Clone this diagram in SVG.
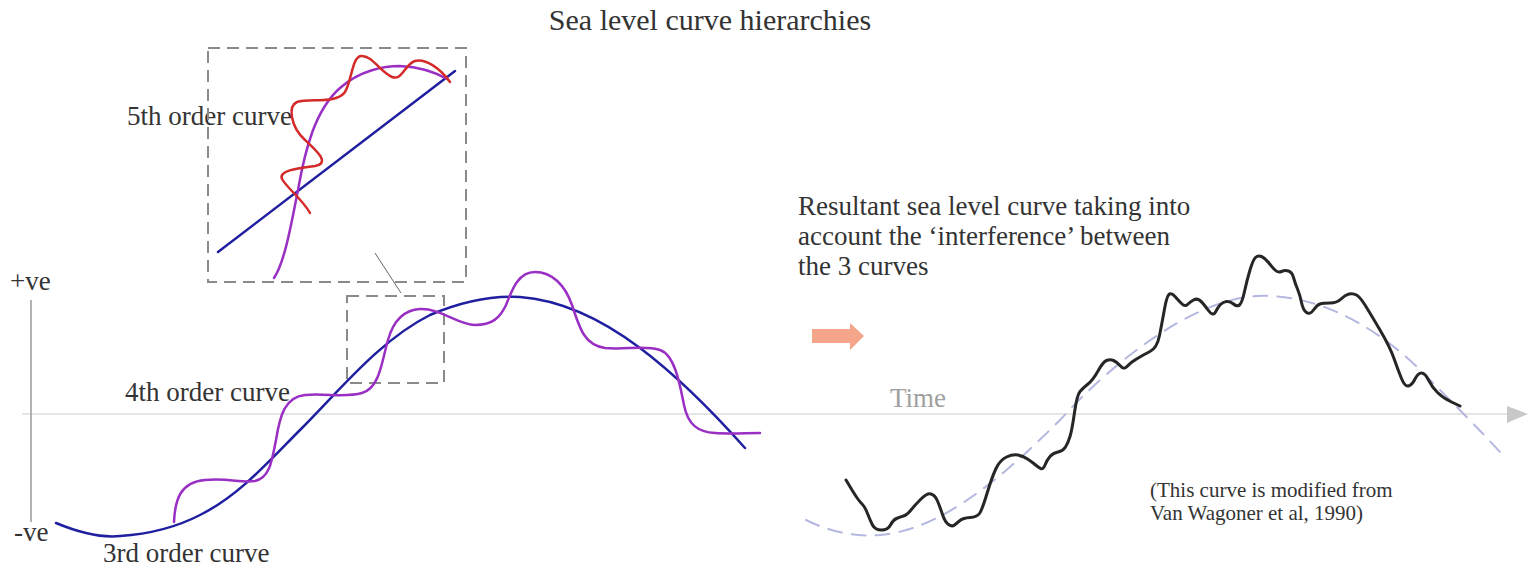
<svg xmlns="http://www.w3.org/2000/svg" width="1536" height="578" viewBox="0 0 1536 578">
<style>
.t{font-family:"Liberation Serif","Times New Roman",serif;fill:#333}
.box{fill:none;stroke:#8a8a8a;stroke-width:2;stroke-dasharray:12 7}
.c{fill:none;stroke-linecap:round;stroke-linejoin:round}
.blue{stroke:#1f1fa0;stroke-width:2.5}
.purple{stroke:#9a2fc4;stroke-width:2.5}
.red{stroke:#d42a2a;stroke-width:2.5}
</style>
<rect width="1536" height="578" fill="#fff"/>
<g id="axes">
<line x1="22" y1="414" x2="1508" y2="414" stroke="#dcdcdc" stroke-width="1.5"/>
<polygon points="1507,406 1528,414 1507,423" fill="#c8c8c8"/>
<line x1="31" y1="300" x2="31" y2="522" stroke="#9a9a9a" stroke-width="1.5"/>
</g>
<g id="title"><text class="t" x="710" y="30" font-size="30" text-anchor="middle">Sea level curve hierarchies</text></g>
<g id="labels">
<text class="t" x="127" y="125" font-size="27">5th order curve</text>
<text class="t" x="10" y="290" font-size="27">+ve</text>
<text class="t" x="14" y="541" font-size="27">-ve</text>
<text class="t" x="125" y="401" font-size="27">4th order curve</text>
<text class="t" x="103" y="562" font-size="27">3rd order curve</text>
<text class="t" x="890" y="407" font-size="27" style="fill:#a0a0a0">Time</text>
</g>
<g id="inset-box"><rect class="box" x="208" y="48" width="258" height="234"/></g>
<g id="zoom-box"><rect class="box" x="347" y="296" width="97" height="87"/></g>
<g id="connectors"><line x1="375" y1="253" x2="401" y2="293" stroke="#666" stroke-width="1"/></g>
<g id="inset-curves">
<path class="c blue" d="M218,252 L455,71"/>
<path class="c purple" d="M274,278 C285,262 292,220 298,190 C305,150 315,110 340,88 C360,70 385,66 400,66 C420,67 435,72 447,79"/>
<path class="c red" d="M310,213 C303,200 287,188 282,179 C278,170 300,168 315,166 C330,163 318,152 305,140 C290,126 288,106 297,102 C310,98 337,104 345,92 C352,80 352,57 361,56 C372,55 380,72 392,77 C402,81 405,64 415,61 C425,58 440,68 450,82"/>
</g>
<g id="third-order-curve">
<path class="c blue" d="M56,523 C80,533 100,538 120,536 C150,534 175,528 200,515 C240,495 270,460 300,430 C340,390 380,340 430,315 C470,298 500,296 520,297 C560,300 600,318 640,348 C680,378 720,420 745,448"/>
</g>
<g id="fourth-order-curve">
<path class="c purple" d="M174,522 C175,500 180,482 205,480 C230,478 240,483 255,481 C270,478 272,460 276,440 C280,415 285,397 305,395 C325,393 345,398 362,393 C380,388 382,360 388,340 C393,322 403,310 420,309 C440,308 458,325 475,325 C492,325 500,318 506,305 C512,290 518,272 535,272 C552,272 565,285 572,305 C580,330 585,345 605,348 C625,350 645,345 660,350 C675,355 680,385 684,405 C688,425 698,432 715,433 C730,434 745,433 760,433"/>
</g>
<g id="arrow"><polygon points="812,329 850,329 850,323 864,336 850,350 850,343 812,343" fill="#f4a58a"/></g>
<g id="resultant-text">
<text class="t" font-size="27"><tspan x="798" y="215">Resultant sea level curve taking into</tspan><tspan x="798" y="245">account the ‘interference’ between</tspan><tspan x="798" y="275">the 3 curves</tspan></text>
</g>
<g id="reference-sine">
<path class="c" stroke="#b4b8e0" stroke-width="2" stroke-dasharray="14 10" stroke-linecap="butt" d="M806,520 C830,532 855,537 880,535 C940,530 1000,480 1060,420 C1110,365 1190,300 1257,296 C1320,293 1380,330 1420,370 C1450,400 1480,430 1500,452"/>
</g>
<g id="resultant-curve">
<path class="c" stroke="#262626" stroke-width="3" d="M846,480 L850.5,487.5 Q855,495 857.5,498.5 Q860,502 862.5,504.5 Q865,507 867.5,513.5 Q870,520 872.5,525 Q875,530 881.5,530 Q888,530 890.5,525 Q893,520 896.5,518.5 Q900,517 903.5,516 Q907,515 911,510 Q915,505 921,499 Q927,493 931,494 Q935,495 937.5,501 Q940,507 942.5,514.5 Q945,522 948.5,524.5 Q952,527 954.5,525 Q957,523 960,520.5 Q963,518 970,517.5 Q977,517 979.5,513.5 Q982,510 987,493.5 Q992,477 996,468.5 Q1000,460 1006.5,457 Q1013,454 1018,455 Q1023,456 1027.5,459 Q1032,462 1035,464.5 Q1038,467 1040.5,468.5 Q1043,470 1045,465 Q1047,460 1050,456.5 Q1053,453 1058,452 Q1063,451 1065.5,447 Q1068,443 1070,436.5 Q1072,430 1074.5,412.5 Q1077,395 1080,391.5 Q1083,388 1088,384 Q1093,380 1098,371 Q1103,362 1106.5,360.5 Q1110,359 1113.5,360.5 Q1117,362 1120.5,366 Q1124,370 1127,366.5 Q1130,363 1136.5,359 Q1143,355 1150,351.5 Q1157,348 1159.5,335.5 Q1162,323 1164.5,309 Q1167,295 1169.5,294 Q1172,293 1175,296.5 Q1178,300 1181.5,303.5 Q1185,307 1187.5,304.5 Q1190,302 1193.5,300 Q1197,298 1200,300.5 Q1203,303 1208,310 Q1213,317 1215.5,312 Q1218,307 1220.5,304.5 Q1223,302 1226.5,301.5 Q1230,301 1233.5,304 Q1237,307 1239.5,305 Q1242,303 1244.5,291.5 Q1247,280 1250,270 Q1253,260 1255.5,257.5 Q1258,255 1261.5,256.5 Q1265,258 1268.5,262.5 Q1272,267 1275,270 Q1278,273 1281.5,271.5 Q1285,270 1288.5,271 Q1292,272 1293.5,277.5 Q1295,283 1297.5,289 Q1300,295 1301.5,302.5 Q1303,310 1306.5,312.5 Q1310,315 1313.5,310 Q1317,305 1320,304 Q1323,303 1330,303 Q1337,303 1341,299 Q1345,295 1349,294 Q1353,293 1356.5,295 Q1360,297 1365,305 Q1370,313 1380,330 Q1390,347 1394,358.5 Q1398,370 1401.5,378.5 Q1405,387 1408.5,386 Q1412,385 1415,379 Q1418,373 1421.5,373 Q1425,373 1428.5,380 Q1432,387 1437.5,392.5 Q1443,398 1451.5,402 L1460,406"/>
</g>
<g id="source-note">
<text class="t" font-size="21"><tspan x="1150" y="497">(This curve is modified from</tspan><tspan x="1150" y="520">Van Wagoner et al, 1990)</tspan></text>
</g>
</svg>
